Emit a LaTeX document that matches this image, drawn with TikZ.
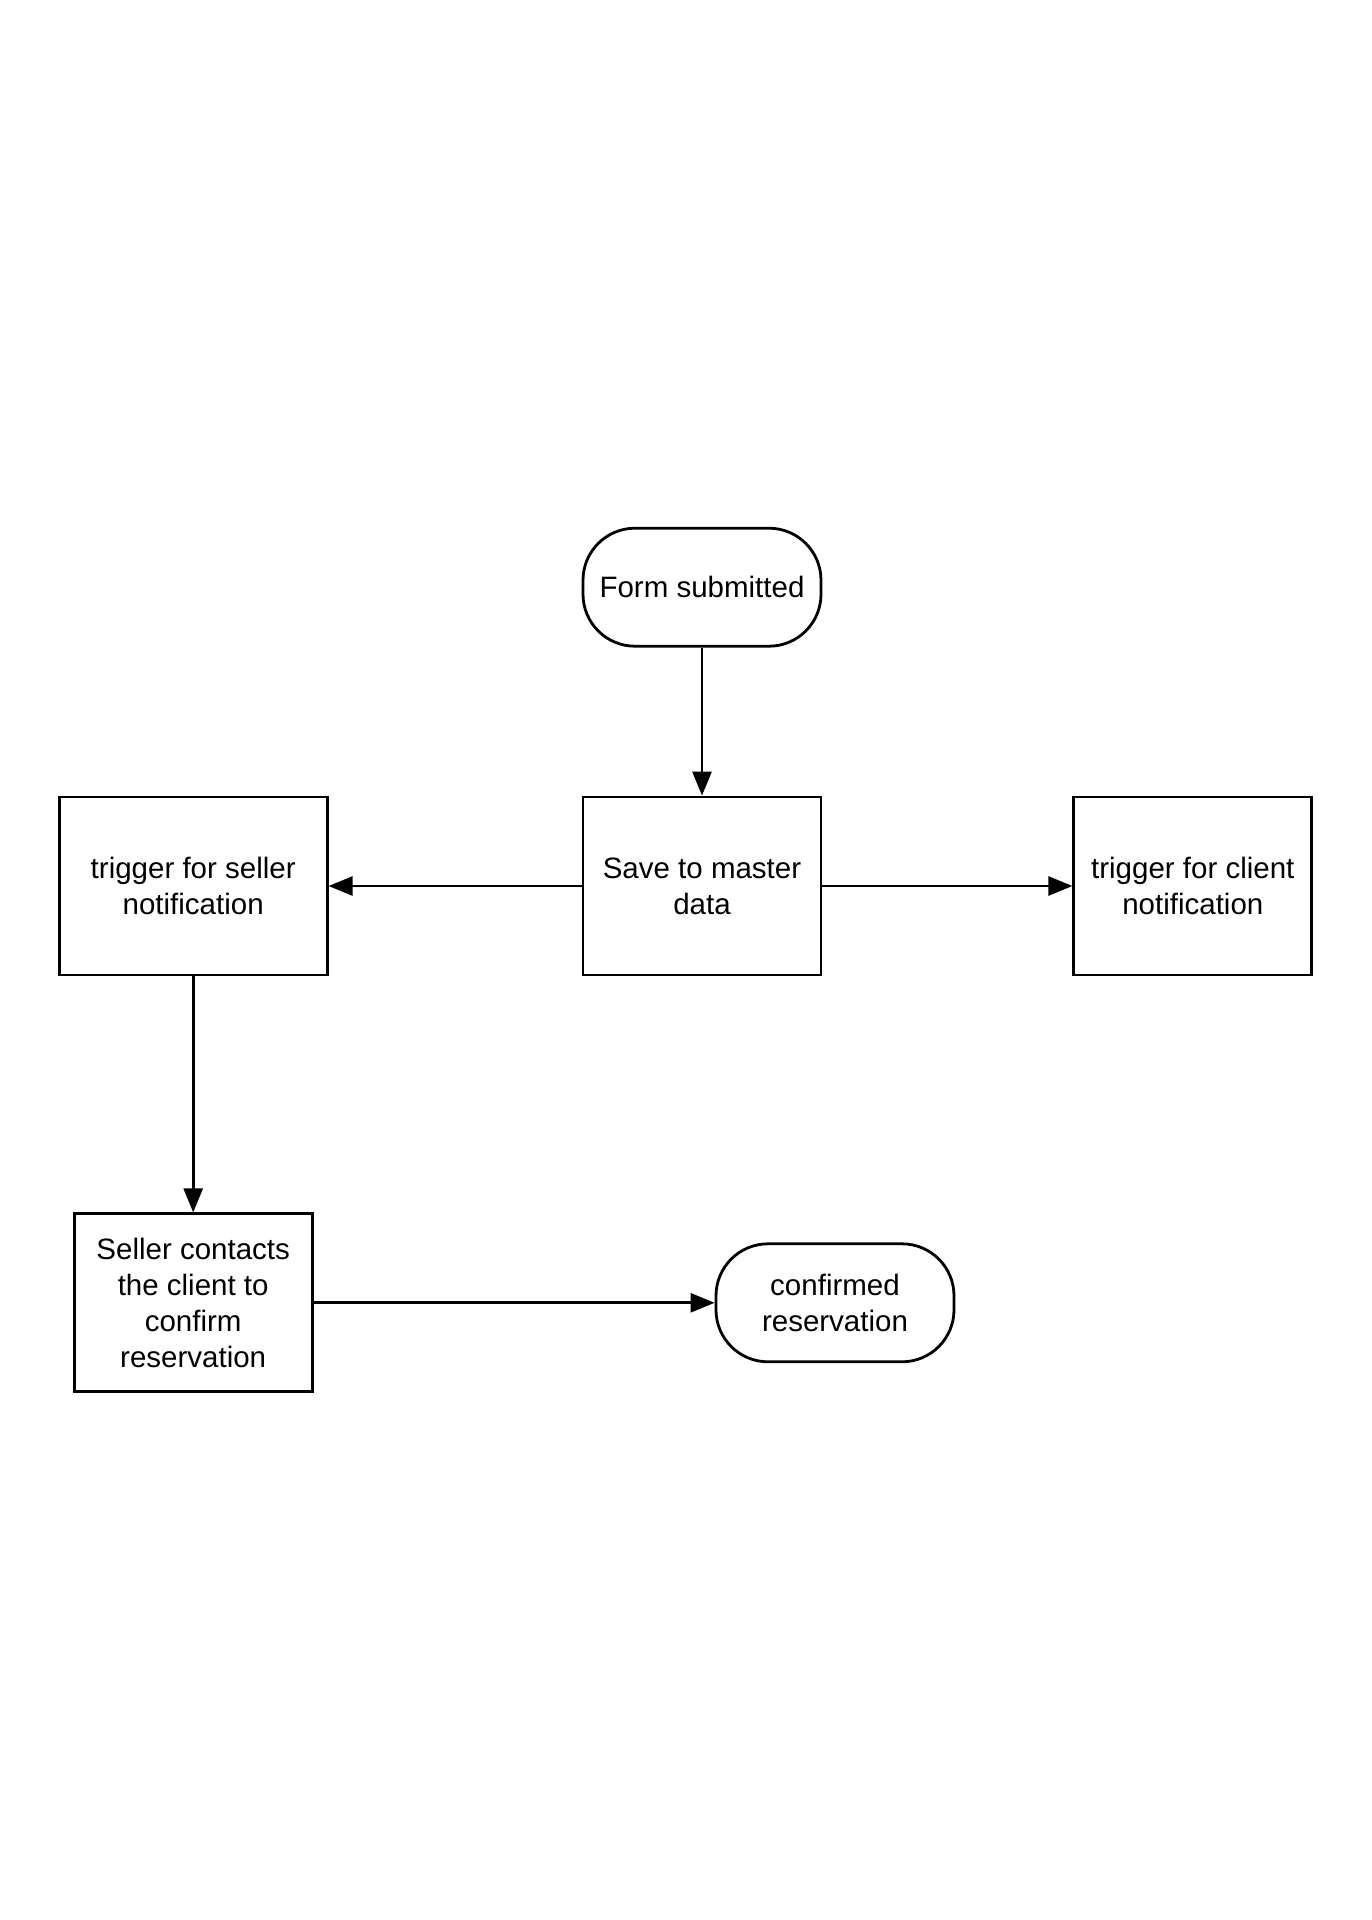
\documentclass[tikz,border=0pt]{standalone}
\usepackage{fontspec}
\setmainfont{Liberation Sans}
\usetikzlibrary{arrows.meta,positioning}

\begin{document}
\begin{tikzpicture}[
  x=1pt, y=-1pt, >={Triangle[length=24pt, width=19pt]}, line width=2.8pt,
  node distance=150pt and 250pt,
  proc/.style={rectangle, draw, minimum width=238pt, minimum height=178pt,
    align=center, font=\fontsize{29.5}{36}\selectfont},
  term/.style={rectangle, rounded corners=52pt, draw, minimum width=238pt,
    minimum height=118pt, align=center, font=\fontsize{29.5}{36}\selectfont},
]
  \useasboundingbox (0,0) rectangle (1372,1920);

  \node[proc] (save) at (702,886) {Save to master\\data};
  \node[term, above=148pt of save] (form) {Form submitted};
  \node[proc, minimum width=268pt, left=253pt of save] (sellertrig) {trigger for seller\\notification};
  \node[proc, right=250pt of save] (clienttrig) {trigger for client\\notification};
  \node[proc, below=236pt of sellertrig] (contact) {Seller contacts\\the client to\\confirm\\reservation};
  \node[term, right=401pt of contact] (confirmed) {confirmed\\reservation};

  \draw[->] (form) -- (save);
  \draw[->] (save) -- (sellertrig);
  \draw[->] (save) -- (clienttrig);
  \draw[->] (sellertrig) -- (contact);
  \draw[->] (contact) -- (confirmed);
\end{tikzpicture}
\end{document}
